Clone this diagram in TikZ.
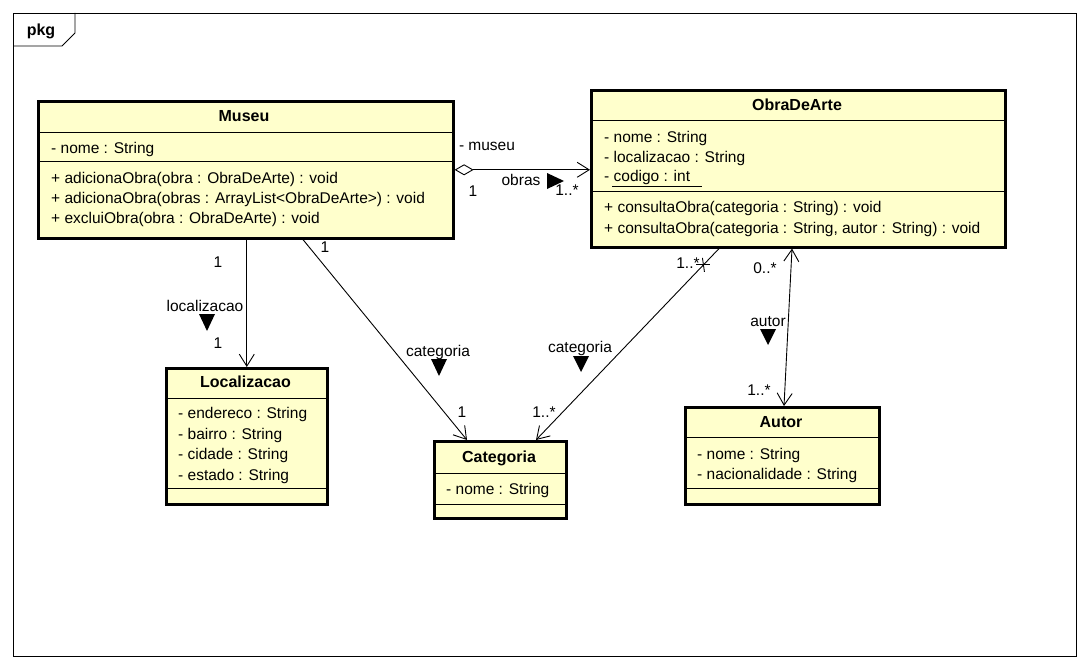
\documentclass[tikz,border=0pt]{standalone}
\usepackage{fontspec}
\setmainfont{Liberation Sans}
\usetikzlibrary{arrows.meta,calc}
\definecolor{umlfill}{RGB}{255,255,204}
\begin{document}
\begin{tikzpicture}[x=1pt,y=-1pt,
  every node/.style={inner sep=0pt, font=\fontsize{15.5}{18}\selectfont},
  umlclass/.style={draw, line width=2.6pt, fill=umlfill, anchor=north west, inner sep=0pt},
  divider/.style={line width=0.9pt},
  member/.style={anchor=west, text height=11pt, text depth=3pt},
  ctitle/.style={font=\fontsize{16}{18}\selectfont\bfseries, text height=11pt, text depth=3pt},
  lbl/.style={text height=11pt, text depth=3pt},
  assoc/.style={line width=0.9pt},
  navtip/.style={-{Straight Barb[length=12pt,width=15pt]}},
  dirmark/.style={fill=black}
]
\useasboundingbox (0,0) rectangle (1089,669);
\fill[white] (0,0) rectangle (1089,669);

% package frame
\draw[line width=0.9pt] (13,13) rectangle (1076,656);
\draw[line width=0.9pt] (13,46) -- (62,46) -- (75,33) -- (75,13);
\node[font=\fontsize{16}{18}\selectfont\bfseries] (pkg) at (41,31) {pkg};

% Museu
\node[umlclass, minimum width=415pt, minimum height=137pt] (museu) at (37,100) {};
\node[ctitle] (museuT) at (244,117) {Museu};
\draw[divider] ([yshift=-32pt]museu.north west) -- ([yshift=-32pt]museu.north east);
\node[member] (museuA1) at (51,149) {- nome : String};
\draw[divider] ([yshift=-61pt]museu.north west) -- ([yshift=-61pt]museu.north east);
\node[member] (museuM1) at (51,179) {+ adicionaObra(obra : ObraDeArte) : void};
\node[member] (museuM2) at (51,199) {+ adicionaObra(obras : ArrayList<ObraDeArte>) : void};
\node[member] (museuM3) at (51,219) {+ excluiObra(obra : ObraDeArte) : void};

% ObraDeArte
\node[umlclass, minimum width=414pt, minimum height=157pt] (obra) at (590,89) {};
\node[ctitle] (obraT) at (797,106) {ObraDeArte};
\draw[divider] ([yshift=-31pt]obra.north west) -- ([yshift=-31pt]obra.north east);
\node[member] (obraA1) at (604,138) {- nome : String};
\node[member] (obraA2) at (604,158) {- localizacao : String};
\node[member] (obraA3) at (604,177) {- codigo : int};
\draw[divider] ($(obraA3.south west)+(8,2)$) -- ($(obraA3.south east)+(12,2)$);
\draw[divider] ([yshift=-102pt]obra.north west) -- ([yshift=-102pt]obra.north east);
\node[member] (obraM1) at (604,208) {+ consultaObra(categoria : String) : void};
\node[member] (obraM2) at (604,229) {+ consultaObra(categoria : String, autor : String) : void};

% Localizacao
\node[umlclass, minimum width=161pt, minimum height=136pt] (loc) at (165,367) {};
\node[ctitle] (locT) at (245.5,383) {Localizacao};
\draw[divider] ([yshift=-31pt]loc.north west) -- ([yshift=-31pt]loc.north east);
\node[member] (locA1) at (178,414) {- endereco : String};
\node[member] (locA2) at (178,435) {- bairro : String};
\node[member] (locA3) at (178,455) {- cidade : String};
\node[member] (locA4) at (178,476) {- estado : String};
\draw[divider] ([yshift=-121pt]loc.north west) -- ([yshift=-121pt]loc.north east);

% Categoria
\node[umlclass, minimum width=132pt, minimum height=77pt] (cat) at (433,440) {};
\node[ctitle] (catT) at (499,458) {Categoria};
\draw[divider] ([yshift=-33pt]cat.north west) -- ([yshift=-33pt]cat.north east);
\node[member] (catA1) at (446,490) {- nome : String};
\draw[divider] ([yshift=-64pt]cat.north west) -- ([yshift=-64pt]cat.north east);

% Autor
\node[umlclass, minimum width=194pt, minimum height=97pt] (autor) at (684,406) {};
\node[ctitle] (autorT) at (781,423) {Autor};
\draw[divider] ([yshift=-31pt]autor.north west) -- ([yshift=-31pt]autor.north east);
\node[member] (autorA1) at (697,455) {- nome : String};
\node[member] (autorA2) at (697,475) {- nacionalidade : String};
\draw[divider] ([yshift=-82pt]autor.north west) -- ([yshift=-82pt]autor.north east);

% Museu <>--> ObraDeArte
\draw[assoc, {Diamond[open,length=19pt,width=11pt]}-{Straight Barb[length=12pt,width=15pt]}]
  (museu.east) -- (museu.east -| obra.west);
\node[lbl] (lMuseu) at (487,146) {- museu};
\node[lbl] (lM1) at (473,192) {1};
\node[lbl] (lObras) at (521,181) {obras};
\fill[dirmark] (547,173) -- (564,181) -- (547,189) -- cycle;
\node[lbl] (lO1) at (567,191) {1..*};

% Museu --> Localizacao
\draw[assoc, navtip] (loc.north |- museu.south) -- (loc.north);
\node[lbl] (lL1) at (218,263) {1};
\node[lbl] (lLoc) at (205,307) {localizacao};
\fill[dirmark] (199,314) -- (215,314) -- (207,331) -- cycle;
\node[lbl] (lL2) at (218,344) {1};

% Museu --> Categoria
\draw[assoc, navtip] ([xshift=266pt]museu.south west) -- ([xshift=34pt]cat.north west);
\node[lbl] (lC1) at (325,248) {1};
\node[lbl] (lCat1) at (438,352) {categoria};
\fill[dirmark] (431,359) -- (447,359) -- (439,376) -- cycle;
\node[lbl] (lC2) at (462,413) {1};

% ObraDeArte x--> Categoria
\draw[assoc, navtip] ([xshift=129pt]obra.south west) -- coordinate[pos=0.085] (xmark) ([xshift=103pt]cat.north west);
\draw[assoc] ([xshift=-7pt]xmark) -- ([xshift=7pt]xmark);
\draw[assoc] ([xshift=-1pt,yshift=7pt]xmark) -- ([xshift=1pt,yshift=-7pt]xmark);
\node[lbl] (lC3) at (688,264) {1..*};
\node[lbl] (lCat2) at (580,348) {categoria};
\fill[dirmark] (573,356) -- (589,356) -- (581,372) -- cycle;
\node[lbl] (lC4) at (544,413) {1..*};

% ObraDeArte <--> Autor
\draw[assoc, {Straight Barb[length=12pt,width=15pt]}-{Straight Barb[length=12pt,width=15pt]}]
  ([xshift=202pt]obra.south west) -- ([xshift=100pt]autor.north west);
\node[lbl] (lA1) at (765,269) {0..*};
\node[lbl] (lAut) at (768,322) {autor};
\fill[dirmark] (760,329) -- (776,329) -- (768,345) -- cycle;
\node[lbl] (lA2) at (759,391) {1..*};
\end{tikzpicture}
\end{document}
